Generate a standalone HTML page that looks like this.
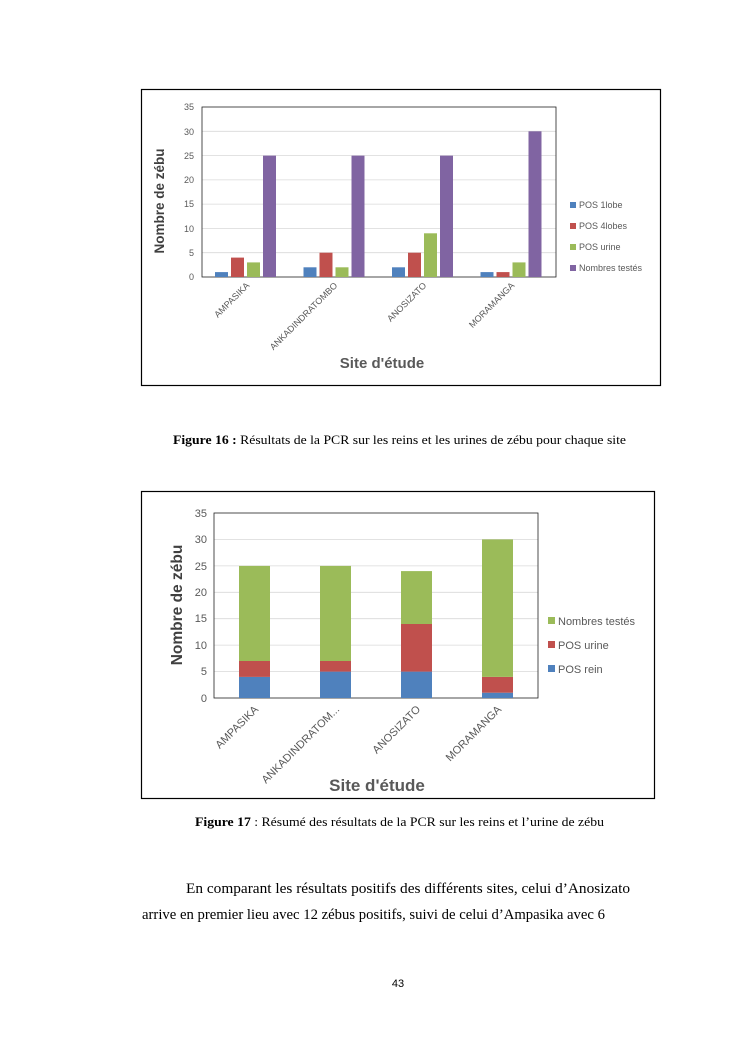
<!DOCTYPE html>
<html><head><meta charset="utf-8"><style>
html,body{margin:0;padding:0;background:#fff;}
svg{display:block;}
</style></head><body>
<svg width="745" height="1053" viewBox="0 0 745 1053" xmlns="http://www.w3.org/2000/svg" font-family="Liberation Sans, sans-serif">
<rect width="745" height="1053" fill="#fff"/>
<!-- Chart 1 -->
<rect x="141.5" y="89.5" width="519" height="296" fill="#fff" stroke="#000" stroke-width="1.2"/>
<g stroke="#d9d9d9" stroke-width="0.8">
<line x1="202" y1="252.7" x2="556" y2="252.7"/><line x1="202" y1="228.4" x2="556" y2="228.4"/>
<line x1="202" y1="204.1" x2="556" y2="204.1"/><line x1="202" y1="179.9" x2="556" y2="179.9"/>
<line x1="202" y1="155.6" x2="556" y2="155.6"/><line x1="202" y1="131.3" x2="556" y2="131.3"/>
</g>
<rect x="202" y="107" width="354" height="170" fill="none" stroke="#222" stroke-width="0.8"/>
<g font-size="9" fill="#595959" text-anchor="end">
<text x="194" y="280">0</text><text x="194" y="256">5</text><text x="194" y="232">10</text><text x="194" y="207">15</text>
<text x="194" y="183">20</text><text x="194" y="159">25</text><text x="194" y="135">30</text><text x="194" y="110">35</text>
</g>
<g>
<!-- group1 -->
<rect x="215" y="272.1" width="13" height="4.9" fill="#4f81bd"/><rect x="231" y="257.6" width="13" height="19.4" fill="#c0504d"/>
<rect x="247" y="262.4" width="13" height="14.6" fill="#9bbb59"/><rect x="263" y="155.6" width="13" height="121.4" fill="#8064a2"/>
<!-- group2 -->
<rect x="303.5" y="267.3" width="13" height="9.7" fill="#4f81bd"/><rect x="319.5" y="252.7" width="13" height="24.3" fill="#c0504d"/>
<rect x="335.5" y="267.3" width="13" height="9.7" fill="#9bbb59"/><rect x="351.5" y="155.6" width="13" height="121.4" fill="#8064a2"/>
<!-- group3 -->
<rect x="392" y="267.3" width="13" height="9.7" fill="#4f81bd"/><rect x="408" y="252.7" width="13" height="24.3" fill="#c0504d"/>
<rect x="424" y="233.3" width="13" height="43.7" fill="#9bbb59"/><rect x="440" y="155.6" width="13" height="121.4" fill="#8064a2"/>
<!-- group4 -->
<rect x="480.5" y="272.1" width="13" height="4.9" fill="#4f81bd"/><rect x="496.5" y="272.1" width="13" height="4.9" fill="#c0504d"/>
<rect x="512.5" y="262.4" width="13" height="14.6" fill="#9bbb59"/><rect x="528.5" y="131.3" width="13" height="145.7" fill="#8064a2"/>
</g>
<g font-size="9" fill="#595959" text-anchor="end">
<text transform="translate(250,286) rotate(-45)">AMPASIKA</text>
<text transform="translate(338,286) rotate(-45)">ANKADINDRATOMBO</text>
<text transform="translate(427,286) rotate(-45)">ANOSIZATO</text>
<text transform="translate(515,286) rotate(-45)">MORAMANGA</text>
</g>
<text x="382" y="368" font-size="15" font-weight="bold" fill="#595959" text-anchor="middle">Site d'étude</text>
<text transform="translate(164,201) rotate(-90)" font-size="13.5" font-weight="bold" fill="#404040" text-anchor="middle">Nombre de zébu</text>
<g font-size="9" fill="#595959">
<rect x="570" y="202" width="6" height="6" fill="#4f81bd"/><text x="579" y="208">POS 1lobe</text>
<rect x="570" y="223" width="6" height="6" fill="#c0504d"/><text x="579" y="229">POS 4lobes</text>
<rect x="570" y="244" width="6" height="6" fill="#9bbb59"/><text x="579" y="250">POS urine</text>
<rect x="570" y="265" width="6" height="6" fill="#8064a2"/><text x="579" y="271">Nombres testés</text>
</g>
<!-- Caption 16 -->
<text x="173" y="444" font-family="Liberation Serif, serif" font-size="12.5" fill="#000" textLength="453" lengthAdjust="spacingAndGlyphs"><tspan font-weight="bold">Figure 16 :</tspan> Résultats de la PCR sur les reins et les urines de zébu pour chaque site</text>
<!-- Chart 2 -->
<rect x="141.5" y="491.5" width="513" height="307" fill="#fff" stroke="#000" stroke-width="1.2"/>
<g stroke="#d9d9d9" stroke-width="0.8">
<line x1="214" y1="671.6" x2="538" y2="671.6"/><line x1="214" y1="645.1" x2="538" y2="645.1"/>
<line x1="214" y1="618.7" x2="538" y2="618.7"/><line x1="214" y1="592.3" x2="538" y2="592.3"/>
<line x1="214" y1="565.9" x2="538" y2="565.9"/><line x1="214" y1="539.4" x2="538" y2="539.4"/>
</g>
<rect x="214" y="513" width="324" height="185" fill="none" stroke="#222" stroke-width="0.8"/>
<g font-size="11" fill="#595959" text-anchor="end">
<text x="207" y="702">0</text><text x="207" y="675">5</text><text x="207" y="649">10</text><text x="207" y="622">15</text>
<text x="207" y="596">20</text><text x="207" y="570">25</text><text x="207" y="543">30</text><text x="207" y="517">35</text>
</g>
<g>
<rect x="239" y="676.9" width="31" height="21.1" fill="#4f81bd"/><rect x="239" y="661" width="31" height="15.9" fill="#c0504d"/><rect x="239" y="565.9" width="31" height="95.1" fill="#9bbb59"/>
<rect x="320" y="671.6" width="31" height="26.4" fill="#4f81bd"/><rect x="320" y="661" width="31" height="10.6" fill="#c0504d"/><rect x="320" y="565.9" width="31" height="95.1" fill="#9bbb59"/>
<rect x="401" y="671.6" width="31" height="26.4" fill="#4f81bd"/><rect x="401" y="624" width="31" height="47.6" fill="#c0504d"/><rect x="401" y="571.1" width="31" height="52.9" fill="#9bbb59"/>
<rect x="482" y="692.7" width="31" height="5.3" fill="#4f81bd"/><rect x="482" y="676.9" width="31" height="15.8" fill="#c0504d"/><rect x="482" y="539.4" width="31" height="137.5" fill="#9bbb59"/>
</g>
<g font-size="11" fill="#595959" text-anchor="end">
<text transform="translate(259,710) rotate(-45)">AMPASIKA</text>
<text transform="translate(340,710) rotate(-45)">ANKADINDRATOM...</text>
<text transform="translate(421,710) rotate(-45)">ANOSIZATO</text>
<text transform="translate(502,710) rotate(-45)">MORAMANGA</text>
</g>
<text x="377" y="791" font-size="17" font-weight="bold" fill="#595959" text-anchor="middle">Site d'étude</text>
<text transform="translate(182,605) rotate(-90)" font-size="15.5" font-weight="bold" fill="#404040" text-anchor="middle">Nombre de zébu</text>
<g font-size="11" fill="#595959">
<rect x="548" y="617" width="7" height="7" fill="#9bbb59"/><text x="558" y="625">Nombres testés</text>
<rect x="548" y="641" width="7" height="7" fill="#c0504d"/><text x="558" y="649">POS urine</text>
<rect x="548" y="665" width="7" height="7" fill="#4f81bd"/><text x="558" y="673">POS rein</text>
</g>
<!-- Caption 17 -->
<text x="195" y="826" font-family="Liberation Serif, serif" font-size="12.5" fill="#000" textLength="409" lengthAdjust="spacingAndGlyphs"><tspan font-weight="bold">Figure 17</tspan> : Résumé des résultats de la PCR sur les reins et l’urine de zébu</text>
<!-- Paragraph -->
<text x="186" y="893" font-family="Liberation Serif, serif" font-size="15" fill="#000" textLength="444" lengthAdjust="spacingAndGlyphs">En comparant les résultats positifs des différents sites, celui d’Anosizato</text>
<text x="142" y="919" font-family="Liberation Serif, serif" font-size="15" fill="#000" textLength="463" lengthAdjust="spacingAndGlyphs">arrive en premier lieu avec 12 zébus positifs, suivi de celui d’Ampasika avec 6</text>
<text x="398" y="987" font-size="11" fill="#000" text-anchor="middle">43</text>
</svg>
</body></html>
